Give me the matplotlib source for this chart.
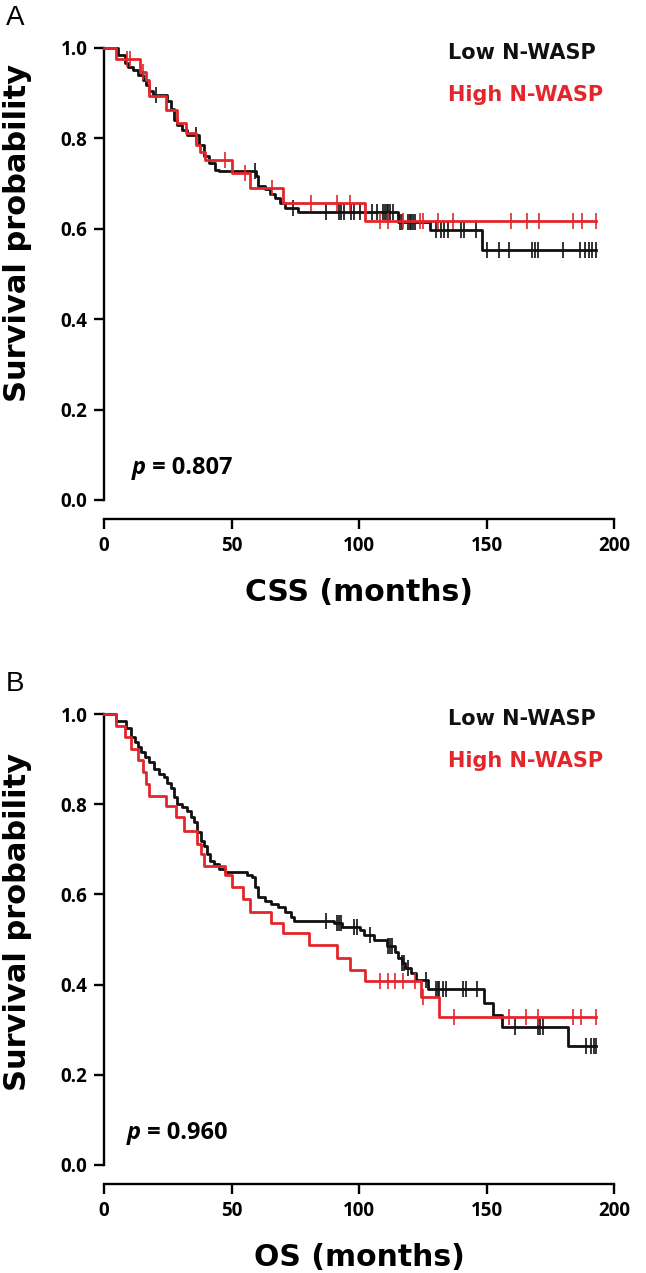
#!/usr/bin/env python3
import numpy as np
import matplotlib
matplotlib.use("Agg")
import matplotlib.pyplot as plt

# ---- data (months, survival probability) ----
# Panel A: cancer specific survival
low_css_t = [5.5, 8.1, 9.4, 11.4, 13.3, 15.2, 16.5, 17.8, 19.1, 24.9, 26.2, 27.5, 28.8, 30.7,
             32.7, 37.2, 39.1, 41.1, 43.7, 45.0, 59.8, 60.5, 63.1, 65.0, 67.0, 68.9, 70.8, 76.0,
             115.4, 127.7, 148.3]
low_css_s = [0.985, 0.967, 0.959, 0.952, 0.941, 0.930, 0.919, 0.904, 0.897, 0.882, 0.864, 0.841,
             0.830, 0.819, 0.808, 0.786, 0.760, 0.746, 0.731, 0.727, 0.716, 0.694, 0.687, 0.676,
             0.668, 0.657, 0.646, 0.638, 0.616, 0.597, 0.553]
low_css_cens = [20.4, 35.9, 59.2, 74.0, 86.9, 92.1, 92.8, 94.1, 96.7, 97.9, 100.5, 105.0, 107.0,
                109.6, 110.2, 110.9, 111.5, 112.2, 113.4, 116.0, 116.7, 119.3, 119.9, 120.5, 121.2,
                121.8, 130.2, 132.2, 133.5, 134.8, 139.9, 141.2, 145.7, 150.3, 154.8, 158.7, 167.7,
                169.0, 170.3, 180.0, 186.5, 188.5, 190.0, 191.5, 193.0]

high_css_t = [4.9, 14.0, 16.3, 17.8, 24.3, 28.8, 32.0, 35.9, 37.5, 39.8, 50.1, 57.2, 70.2, 102.5]
high_css_s = [0.975, 0.948, 0.929, 0.894, 0.863, 0.835, 0.813, 0.785, 0.770, 0.752, 0.723, 0.690,
              0.657, 0.618]
high_css_cens = [9.0, 10.3, 15.2, 47.3, 55.3, 65.9, 81.1, 91.5, 96.6, 108.3, 111.5, 117.3, 123.8,
                 125.1, 130.9, 136.7, 159.5, 166.0, 170.5, 184.0, 187.5, 193.0]

# Panel B: overall survival
low_os_t = [4.9, 8.8, 10.7, 12.0, 13.3, 14.6, 15.9, 17.8, 19.8, 21.7, 23.6, 24.9, 26.2, 27.5,
            28.8, 30.7, 32.7, 34.0, 35.3, 36.6, 37.9, 39.1, 40.4, 41.7, 43.0, 45.0, 47.5, 56.0,
            57.9, 59.2, 60.5, 63.1, 65.6, 68.2, 70.8, 73.4, 74.7, 90.2, 93.4, 100.5, 102.0, 105.7,
            110.9, 114.1, 115.4, 116.7, 118.0, 120.5, 122.5, 127.0, 149.0, 152.4, 156.0, 182.0]
low_os_s = [0.985, 0.970, 0.948, 0.937, 0.926, 0.915, 0.904, 0.893, 0.878, 0.867, 0.860, 0.848,
            0.837, 0.815, 0.800, 0.793, 0.786, 0.771, 0.760, 0.738, 0.719, 0.708, 0.690, 0.675,
            0.667, 0.656, 0.650, 0.643, 0.638, 0.616, 0.595, 0.586, 0.579, 0.571, 0.560, 0.549,
            0.542, 0.536, 0.528, 0.521, 0.510, 0.498, 0.486, 0.473, 0.458, 0.447, 0.436, 0.425,
            0.410, 0.390, 0.359, 0.333, 0.307, 0.263]
low_os_cens = [87.0, 91.5, 92.1, 92.8, 97.9, 99.2, 104.4, 111.5, 112.2, 113.0, 116.9, 117.5, 119.3,
               126.4, 130.3, 130.9, 131.5, 132.8, 134.1, 140.6, 141.9, 146.4, 161.3, 170.2, 171.0,
               172.3, 189.0, 191.0, 192.0, 193.0]

high_os_t = [4.9, 8.1, 10.7, 13.3, 15.2, 16.5, 17.8, 24.3, 28.2, 31.4, 36.6, 38.0, 39.1, 47.5,
             50.1, 54.7, 57.2, 65.6, 70.0, 80.5, 91.5, 96.6, 102.5, 124.4, 131.5]
high_os_s = [0.974, 0.948, 0.922, 0.897, 0.871, 0.845, 0.819, 0.797, 0.771, 0.741, 0.712, 0.690,
             0.664, 0.642, 0.616, 0.590, 0.562, 0.536, 0.514, 0.488, 0.459, 0.433, 0.409, 0.373,
             0.329]
high_os_cens = [108.3, 111.5, 114.1, 117.3, 121.8, 125.1, 137.3, 159.0, 165.5, 170.0, 184.0, 187.0,
                193.0]

group_names = ["Low N-WASP", "High N-WASP"]
p_values = ["0.807", "0.960"]
x_labels = ["CSS (months)", "OS (months)"]
panel_letters = ["A", "B"]
x_ticks = [0, 50, 100, 150, 200]
y_ticks = [0.0, 0.2, 0.4, 0.6, 0.8, 1.0]

BLACK = "#111111"
RED = "#e3262b"
W, H = 646, 1273
LEFT, RIGHT = 104, 614


def draw_km(ax, times, surv, cens, color):
    times = np.asarray(times)
    surv = np.asarray(surv)
    cens = np.asarray(cens)
    t_end = max(times.max(), cens.max())
    xs = np.r_[0, times, t_end]
    ys = np.r_[1.0, surv, surv[-1]]
    ax.step(xs, ys, where='post', color=color, lw=2.0, clip_on=False, zorder=3)
    # survival level at each censoring time
    idx = np.searchsorted(xs, cens, side='right') - 1
    ax.plot(cens, ys[idx], ls='none', marker='|', ms=11, mew=1.2, color=color,
            clip_on=False, zorder=3)


def style_axes(ax, xlabel, label_y):
    ax.set_xlim(0, 200)
    ax.set_ylim(0, 1)
    for side in ['top', 'right']:
        ax.spines[side].set_visible(False)
    ax.spines['bottom'].set_position(('outward', 14))
    ax.spines['left'].set_linewidth(1.7)
    ax.spines['bottom'].set_linewidth(1.7)
    ax.set_xticks(x_ticks)
    ax.set_yticks(y_ticks)
    ax.set_yticklabels([f"{v:.1f}" for v in y_ticks])
    ax.tick_params(direction='out', length=7, width=1.7, pad=5)
    for lab in ax.get_xticklabels() + ax.get_yticklabels():
        lab.set_fontfamily('Open Sans')
        lab.set_fontweight('bold')
        lab.set_fontsize(13.5)
    ax.set_xlabel(xlabel, fontsize=21.5, fontweight='bold', family='DejaVu Sans', labelpad=16)
    ax.set_ylabel("Survival probability", fontsize=22, fontweight='bold',
                  family='DejaVu Sans')
    # right edge of the rotated label sits about 32 px from the figure edge
    ax.yaxis.set_label_coords(-(LEFT - 32) / (RIGHT - LEFT), label_y)


fig = plt.figure(figsize=(W / 100, H / 100), dpi=100)

panels = [
    (low_css_t, low_css_s, low_css_cens, high_css_t, high_css_s, high_css_cens, 48, 500, 0.59),
    (low_os_t, low_os_s, low_os_cens, high_os_t, high_os_s, high_os_cens, 714, 1165, 0.54),
]

for i, (lt, ls_, lc, ht, hs, hc, top, bottom, label_y) in enumerate(panels):
    ax = fig.add_axes([LEFT / W, 1 - bottom / H, (RIGHT - LEFT) / W, (bottom - top) / H])
    draw_km(ax, lt, ls_, lc, BLACK)
    draw_km(ax, ht, hs, hc, RED)
    style_axes(ax, x_labels[i], label_y)

    ax.text(135, 0.99, group_names[0], color=BLACK, fontsize=15, fontweight='bold',
            family='DejaVu Sans', va='center', ha='left')
    ax.text(135, 0.895, group_names[1], color=RED, fontsize=15, fontweight='bold',
            family='DejaVu Sans', va='center', ha='left')

    ptxt = ax.text(11 if i == 0 else 9, 0.07, "p", fontsize=17, fontweight='bold',
                   style='italic', family='Open Sans', va='center', ha='left')
    ax.annotate(" = " + p_values[i], xy=(1, 0.5), xycoords=ptxt, fontsize=17,
                fontweight='bold', family='Open Sans', va='center', ha='left')

    fig.text(6 / W, 1 - (top - 30) / H, panel_letters[i], fontsize=20,
             family='Liberation Sans', va='center', ha='left')

fig.savefig("out.png", dpi=100)
